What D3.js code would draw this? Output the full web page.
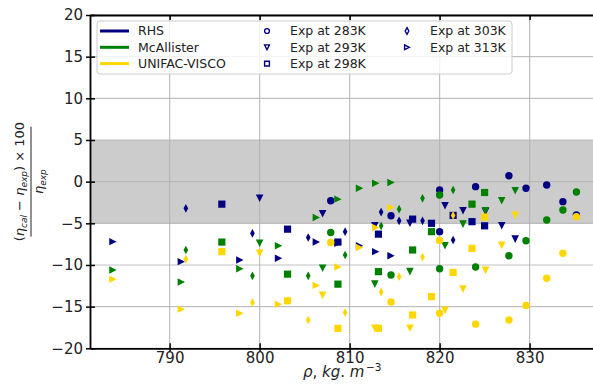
<!DOCTYPE html>
<html>
<head>
<meta charset="utf-8">
<script src="https://cdn.jsdelivr.net/npm/d3@7/dist/d3.min.js"></script>
<style>
  body { margin: 0; background: #fff; }
  text { font-family: "DejaVu Sans", sans-serif; }
</style>
</head>
<body>
<div id="chart"></div>
<script>
// models (colours) and experiment temperatures (markers)
var modelNames = ["RHS", "McAllister", "UNIFAC-VISCO"];
var tempLabels = ["Exp at 283K", "Exp at 293K", "Exp at 298K", "Exp at 303K", "Exp at 313K"];
var xTicks = [790, 800, 810, 820, 830];
var yTicks = [-20, -15, -10, -5, 0, 5, 10, 15, 20];

// densities (kg/m3) for each temperature
var rho283 = [807.9, 814.6, 820.0, 820.0, 824.0, 827.7, 829.6, 831.9, 833.7, 835.2];
var rho293 = [800.0, 807.0, 812.8, 816.7, 820.6, 822.6, 825.1, 826.9, 828.4];
var rho298 = [795.8, 803.1, 808.7, 813.2, 817.0, 819.1, 821.5, 823.6, 825.0];
var rho303 = [791.8, 799.2, 805.4, 809.5, 813.5, 815.5, 818.1, 821.5];
var rho313 = [783.7, 791.3, 797.8, 802.1, 806.3, 808.7, 811.1, 812.9, 814.6];

// relative deviation (%) - RHS
var rhs283 = [-2.3, -4.1, -1.0, -6.0, -0.6, 0.7, -0.8, -0.4, -2.4, -4.0];
var rhs293 = [-2.0, -3.85, -5.3, -5.0, -2.9, -3.5, -3.6, -5.3, -6.9];
var rhs298 = [-2.7, -5.7, -7.25, -6.3, -4.5, -5.0, -4.05, -4.8, -5.3];
var rhs303 = [-3.2, -6.2, -6.7, -6.0, -3.65, -4.7, -4.7, -7.0];
var rhs313 = [-7.2, -9.6, -9.4, -9.2, -7.25, -7.4, -7.7, -8.4, -8.9];

// McAllister
var mca283 = [-6.1, -11.2, -1.6, -10.45, -10.25, -8.9, -7.1, -4.6, -3.4, -1.25];
var mca293 = [-7.4, -10.4, -12.3, -10.8, -7.7, -5.1, -3.5, -2.3, -1.1];
var mca298 = [-7.25, -11.1, -12.3, -10.8, -8.2, -6.0, null, -2.7, -1.3];
var mca303 = [-8.2, -11.3, -11.3, -8.8, -5.3, -3.3, -2.0, -1.0];
var mca313 = [-10.6, -12.05, -10.45, -7.7, -4.3, -2.1, -0.8, -0.2, -0.1];

// UNIFAC-VISCO
var uni283 = [-7.3, -14.45, -7.05, -15.8, -17.1, -16.6, -14.85, -11.6, -8.6, -4.2];
var uni293 = [-8.6, -13.65, -17.6, -17.6, -15.45, -12.9, -10.65, -7.65, -4.05];
var uni298 = [-8.4, -14.3, -17.6, -17.6, -16.0, -13.8, -10.9, -8.0, -4.25];
var uni303 = [-9.3, -14.5, -16.6, -15.7, -13.25, -11.4, -9.05, -4.05];
var uni313 = [-11.7, -15.3, -15.8, -14.7, -12.45, -10.25, -7.9, -5.5, -3.1];

var colors = ["#000080", "#008000", "#ffd700"];
var rhoByTemp = [rho283, rho293, rho298, rho303, rho313];
var devs = [
  [rhs283, rhs293, rhs298, rhs303, rhs313],
  [mca283, mca293, mca298, mca303, mca313],
  [uni283, uni293, uni298, uni303, uni313]
];

// marker shapes: circle, triangle down, square, thin diamond, triangle right
function marker(k, r) {
  if (k == 0) return "M" + r + ",0A" + r + "," + r + " 0 1 1 " + (-r) + ",0A" + r + "," + r + " 0 1 1 " + r + ",0Z";
  if (k == 1) return "M0," + r + "L" + (-r) + "," + (-r) + "L" + r + "," + (-r) + "Z";
  if (k == 2) return "M" + (-r) + "," + (-r) + "H" + r + "V" + r + "H" + (-r) + "Z";
  if (k == 3) return "M0," + (-r * 1.2) + "L" + (r * 0.65) + ",0L0," + (r * 1.2) + "L" + (-r * 0.65) + ",0Z";
  return "M" + r + ",0L" + (-r) + "," + (-r) + "L" + (-r) + "," + r + "Z";
}

var W = 593, H = 387;
var padL = 90, padT = 15, padB = 348.3, padR = 598;

var svg = d3.select("#chart").append("svg")
  .attr("width", W).attr("height", H);

var x = d3.scaleLinear().domain([781.15, 837.6]).range([padL, padR]);
var y = d3.scaleLinear().domain([-20, 20]).range([padB, padT]);

// shaded +-5% band
svg.append("rect")
  .attr("x", padL).attr("y", y(5))
  .attr("width", padR - padL).attr("height", y(-5) - y(5))
  .attr("fill", "#cccccc");

// grid
svg.append("g").selectAll("line").data(xTicks).enter().append("line")
  .attr("x1", function(d) { return x(d); }).attr("x2", function(d) { return x(d); })
  .attr("y1", padT).attr("y2", padB)
  .attr("stroke", "#b0b0b0").attr("stroke-opacity", 0.8).attr("stroke-width", 1.2);
svg.append("g").selectAll("line").data(yTicks).enter().append("line")
  .attr("y1", function(d) { return y(d); }).attr("y2", function(d) { return y(d); })
  .attr("x1", padL).attr("x2", padR)
  .attr("stroke", "#b0b0b0").attr("stroke-opacity", 0.8).attr("stroke-width", 1.2);

// points
devs.forEach(function(model, m) {
  var g = svg.append("g").attr("fill", colors[m]);
  model.forEach(function(vals, t) {
    var pts = vals.map(function(v, i) { return {rho: rhoByTemp[t][i], dev: v}; })
      .filter(function(d) { return d.dev !== null; });
    var r = [3.7, 3.8, 3.6, 3.6, 3.7][t];
    g.selectAll(null).data(pts).enter().append("path")
      .attr("d", marker(t, r))
      .attr("transform", function(d) { return "translate(" + x(d.rho) + "," + y(d.dev) + ")"; });
  });
});

// axes
var yAxis = svg.append("g").attr("transform", "translate(" + padL + ",0)")
  .call(d3.axisLeft(y).tickValues(yTicks).tickSize(-5).tickSizeOuter(0).tickPadding(7));
yAxis.selectAll(".tick").append("line").attr("x2", -4).attr("stroke", "#000");
var xAxis = svg.append("g").attr("transform", "translate(0," + padB + ")")
  .call(d3.axisBottom(x).tickValues(xTicks).tickSize(-5).tickSizeOuter(0).tickPadding(4).tickFormat(d3.format("d")));
xAxis.selectAll(".tick").append("line").attr("y2", 3).attr("stroke", "#000");
var topAxis = svg.append("g").attr("transform", "translate(0," + padT + ")")
  .call(d3.axisTop(x).tickValues(xTicks).tickSize(-5).tickSizeOuter(0).tickFormat(""));
[yAxis, xAxis, topAxis].forEach(function(a) {
  a.select(".domain").attr("stroke-width", 1.8);
  a.selectAll(".tick line").attr("stroke-width", 1.5);
  a.selectAll("text").attr("font-size", 15).attr("fill", "#222").attr("font-family", "DejaVu Sans");
});

// legend
var leg = svg.append("g");
leg.append("rect").attr("x", 97).attr("y", 21).attr("width", 415).attr("height", 53).attr("rx", 3)
  .attr("fill", "#fff").attr("fill-opacity", 0.8).attr("stroke", "#cccccc");
modelNames.forEach(function(name, i) {
  var cy = 31 + i * 16.3;
  leg.append("line").attr("x1", 100).attr("x2", 129).attr("y1", cy).attr("y2", cy)
    .attr("stroke", colors[i]).attr("stroke-width", 3);
  leg.append("text").attr("x", 138).attr("y", cy + 4.4).attr("font-size", 12.5).attr("fill", "#222").text(name);
});
tempLabels.forEach(function(name, t) {
  var col = t < 3 ? 0 : 1, row = t < 3 ? t : t - 3;
  var cy = 31 + row * 16.3;
  var mx = col == 0 ? 267 : 407;
  leg.append("path").attr("d", marker(t, t == 3 ? 2.8 : 2.4))
    .attr("transform", "translate(" + mx + "," + cy + ")")
    .attr("fill", "none").attr("stroke", colors[0]).attr("stroke-width", 1.4);
  leg.append("text").attr("x", mx + 23).attr("y", cy + 4.4).attr("font-size", 12.5).attr("fill", "#222").text(name);
});

// x label
var xl = svg.append("text").attr("x", 303).attr("y", 377).attr("font-size", 15).attr("fill", "#222");
xl.append("tspan").attr("font-style", "italic").text("ρ");
xl.append("tspan").text(", ");
xl.append("tspan").attr("font-style", "italic").text("kg");
xl.append("tspan").text(". ");
xl.append("tspan").attr("font-style", "italic").text("m");
xl.append("tspan").attr("font-size", 10.5).attr("dx", 1.5).attr("dy", -6).text("−3");

// y label as fraction
var yl = svg.append("g").attr("transform", "translate(31," + y(0) + ") rotate(-90)");
var num = yl.append("text").attr("x", 0).attr("y", -7).attr("text-anchor", "middle")
  .attr("font-size", 13).attr("fill", "#222");
num.append("tspan").text("(");
num.append("tspan").attr("font-style", "italic").text("η");
num.append("tspan").attr("font-style", "italic").attr("font-size", 9).attr("dy", 3).text("cal");
num.append("tspan").attr("dy", -3).text(" − ");
num.append("tspan").attr("font-style", "italic").text("η");
num.append("tspan").attr("font-style", "italic").attr("font-size", 9).attr("dy", 3).text("exp");
num.append("tspan").attr("dy", -3).text(") × 100");
yl.append("line").attr("x1", -55).attr("x2", 55).attr("y1", 0).attr("y2", 0)
  .attr("stroke", "#222").attr("stroke-width", 1);
var den = yl.append("text").attr("x", 0).attr("y", 12).attr("text-anchor", "middle")
  .attr("font-size", 13).attr("fill", "#222");
den.append("tspan").attr("font-style", "italic").text("η");
den.append("tspan").attr("font-style", "italic").attr("font-size", 9).attr("dy", 3).text("exp");
</script>
</body>
</html>
